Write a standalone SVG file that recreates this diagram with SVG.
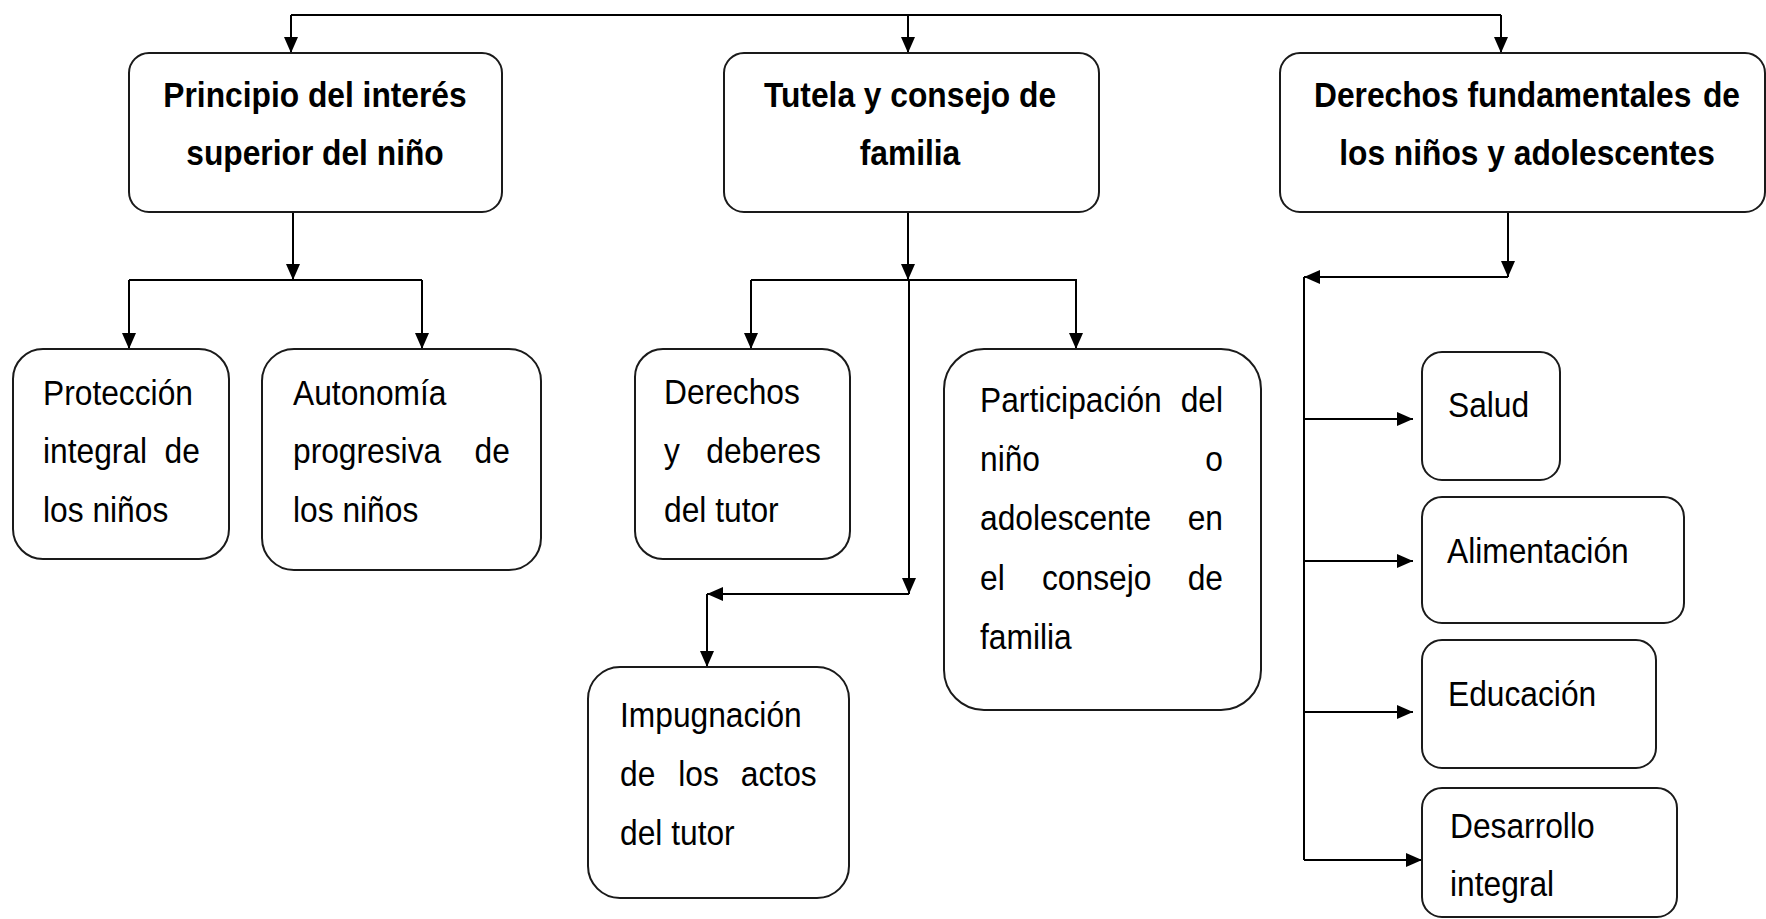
<svg xmlns="http://www.w3.org/2000/svg" width="1766" height="919" viewBox="0 0 1766 919">
<defs>
<marker id="ah" markerUnits="userSpaceOnUse" markerWidth="16" markerHeight="14" refX="16" refY="7" orient="auto">
<path d="M0,0 L16,7 L0,14 z" fill="#000"/>
</marker>
<style>
.box{fill:#fff;stroke:#1a1a1a;stroke-width:2}
.ln{fill:none;stroke:#000;stroke-width:2}
.ar{fill:none;stroke:#000;stroke-width:2;marker-end:url(#ah)}
text{font-family:"Liberation Sans",Arial,sans-serif;font-size:31.75px;fill:#000}
.b{font-weight:bold;text-anchor:middle}
</style>
</defs>
<g id="connectors">
<path class="ln" d="M291,15 H1501"/>
<path class="ar" d="M291,15 V53"/>
<path class="ar" d="M908,15 V53"/>
<path class="ar" d="M1501,15 V53"/>
<path class="ar" d="M293,212 V280"/>
<path class="ln" d="M129,280 H422"/>
<path class="ar" d="M129,280 V349"/>
<path class="ar" d="M422,280 V349"/>
<path class="ar" d="M908,212 V280"/>
<path class="ln" d="M751,280 H1077"/>
<path class="ar" d="M751,280 V349"/>
<path class="ar" d="M1076,280 V349"/>
<path class="ar" d="M909,280 V594"/>
<path class="ar" d="M909,594 H707"/>
<path class="ar" d="M707,594 V667"/>
<path class="ar" d="M1508,212 V277"/>
<path class="ar" d="M1508,277 H1304"/>
<path class="ln" d="M1304,277 V860"/>
<path class="ar" d="M1304,419 H1413"/>
<path class="ar" d="M1304,561 H1413"/>
<path class="ar" d="M1304,712 H1413"/>
<path class="ar" d="M1304,860 H1422"/>
</g>
<g id="n1">
<rect class="box" x="129" y="53" width="373" height="159" rx="20"/>
<text class="b" transform="translate(315,107) scale(1,1.1)">Principio del interés</text>
<text class="b" transform="translate(315,165) scale(1,1.1)">superior del niño</text>
</g>
<g id="n2">
<rect class="box" x="724" y="53" width="375" height="159" rx="20"/>
<text class="b" transform="translate(910,107) scale(1,1.1)">Tutela y consejo de</text>
<text class="b" transform="translate(910,165) scale(1,1.1)">familia</text>
</g>
<g id="n3">
<rect class="box" x="1280" y="53" width="485" height="159" rx="20"/>
<text font-weight="bold" transform="translate(1314,107) scale(1,1.1)">Derechos fundamentales<tspan x="426" text-anchor="end">de</tspan></text>
<text class="b" transform="translate(1527,165) scale(1,1.1)">los niños y adolescentes</text>
</g>
<g id="n4">
<rect class="box" x="13" y="349" width="216" height="210" rx="30"/>
<text transform="translate(43,405) scale(1,1.1)">Protección</text>
<text transform="translate(43,463) scale(1,1.1)">integral<tspan x="121.6">de</tspan></text>
<text transform="translate(43,522) scale(1,1.1)">los niños</text>
</g>
<g id="n5">
<rect class="box" x="262" y="349" width="279" height="221" rx="32"/>
<text transform="translate(293,405) scale(1,1.1)">Autonomía</text>
<text transform="translate(293,463) scale(1,1.1)">progresiva<tspan x="181.5">de</tspan></text>
<text transform="translate(293,522) scale(1,1.1)">los niños</text>
</g>
<g id="n6">
<rect class="box" x="635" y="349" width="215" height="210" rx="28"/>
<text transform="translate(664,404) scale(1,1.1)">Derechos</text>
<text transform="translate(664,463) scale(1,1.1)">y<tspan x="42.3">deberes</tspan></text>
<text transform="translate(664,522) scale(1,1.1)">del tutor</text>
</g>
<g id="n7">
<rect class="box" x="944" y="349" width="317" height="361" rx="40"/>
<text transform="translate(980,412) scale(1,1.1)">Participación<tspan x="243" text-anchor="end">del</tspan></text>
<text transform="translate(980,471) scale(1,1.1)">niño<tspan x="243" text-anchor="end">o</tspan></text>
<text transform="translate(980,530) scale(1,1.1)">adolescente<tspan x="243" text-anchor="end">en</tspan></text>
<text transform="translate(980,590) scale(1,1.1)">el<tspan x="62">consejo</tspan><tspan x="243" text-anchor="end">de</tspan></text>
<text transform="translate(980,649) scale(1,1.1)">familia</text>
</g>
<g id="n8">
<rect class="box" x="588" y="667" width="261" height="231" rx="32"/>
<text transform="translate(620,727) scale(1,1.1)">Impugnación</text>
<text transform="translate(620,786) scale(1,1.1)">de<tspan x="58.3">los</tspan><tspan x="196.7" text-anchor="end">actos</tspan></text>
<text transform="translate(620,845) scale(1,1.1)">del tutor</text>
</g>
<g id="n9">
<rect class="box" x="1422" y="352" width="138" height="128" rx="20"/>
<text transform="translate(1448,417) scale(1,1.1)">Salud</text>
</g>
<g id="n10">
<rect class="box" x="1422" y="497" width="262" height="126" rx="20"/>
<text transform="translate(1447,563) scale(1,1.1)">Alimentación</text>
</g>
<g id="n11">
<rect class="box" x="1422" y="640" width="234" height="128" rx="20"/>
<text transform="translate(1448,706) scale(1,1.1)">Educación</text>
</g>
<g id="n12">
<rect class="box" x="1422" y="788" width="255" height="129" rx="20"/>
<text transform="translate(1450,838) scale(1,1.1)">Desarrollo</text>
<text transform="translate(1450,896) scale(1,1.1)">integral</text>
</g>
</svg>
